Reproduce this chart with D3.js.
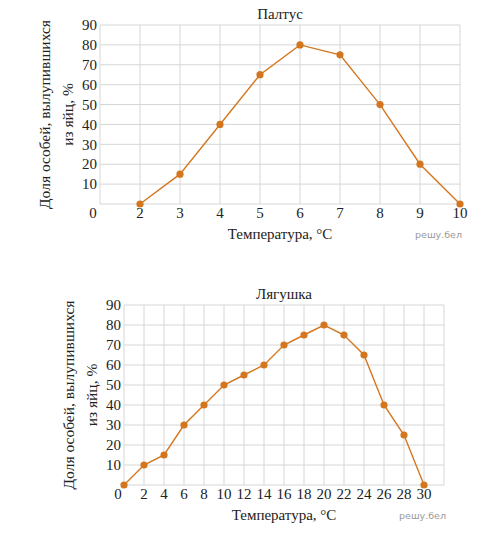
<!DOCTYPE html>
<html><head><meta charset="utf-8">
<script src="https://cdn.jsdelivr.net/npm/d3@7"></script>
<style>body{margin:0;background:#fff}svg{display:block}</style>
</head><body>
<script>
// Палтус
const halibutTemps = [2,3,4,5,6,7,8,9,10];
const halibutValues = [0,15,40,65,80,75,50,20,0];
const halibutXTicks = [2,3,4,5,6,7,8,9,10];
// Лягушка
const frogTemps = [0,2,4,6,8,10,12,14,16,18,20,22,24,26,28,30];
const frogValues = [0,10,15,30,40,50,55,60,70,75,80,75,65,40,25,0];
const frogXTicks = [2,4,6,8,10,12,14,16,18,20,22,24,26,28,30];
const yTicks = [10,20,30,40,50,60,70,80,90];
const titles = ["Палтус","Лягушка"];
const xLabel = "Температура, °C";
const yLabel1 = "Доля особей, вылупившихся";
const yLabel2 = "из яйц, %";
const watermark = "решу.бел";

const W=502,H=537;
const svg=d3.select("body").append("svg").attr("width",W).attr("height",H);
const serif="'Liberation Serif','Times New Roman',serif";
const col="#d4761f", grid="#d6d6d6";

function chart(cfg){
  const g=svg.append("g");
  const x=d3.scaleLinear().domain(cfg.xDomain).range([cfg.left,cfg.right]);
  const y=d3.scaleLinear().domain([0,90]).range([cfg.bottom,cfg.top]);
  // grid
  g.selectAll(".vg").data(cfg.vGrid).join("line")
    .attr("x1",d=>x(d)).attr("x2",d=>x(d)).attr("y1",cfg.top).attr("y2",cfg.bottom)
    .attr("stroke",grid).attr("stroke-width",1);
  g.selectAll(".hg").data([0].concat(yTicks)).join("line")
    .attr("x1",cfg.left).attr("x2",cfg.right).attr("y1",d=>y(d)).attr("y2",d=>y(d))
    .attr("stroke",grid).attr("stroke-width",1);
  // y ticks
  g.selectAll(".yt").data(yTicks).join("text")
    .attr("x",cfg.left-3).attr("y",d=>y(d)).attr("dy","0.35em")
    .attr("text-anchor","end").attr("font-family",serif).attr("font-size",15).attr("fill","#222")
    .text(d=>d);
  g.append("text").attr("x",cfg.zeroX).attr("y",cfg.bottom+9).attr("dy","0.35em")
    .attr("text-anchor","middle").attr("font-family",serif).attr("font-size",15).attr("fill","#222").text("0");
  // x ticks
  g.selectAll(".xt").data(cfg.xTicks).join("text")
    .attr("x",d=>x(d)).attr("y",cfg.bottom+9).attr("dy","0.35em")
    .attr("text-anchor","middle").attr("font-family",serif).attr("font-size",15).attr("fill","#222")
    .text(d=>d);
  // title
  const cx=(cfg.left+cfg.right)/2;
  g.append("text").attr("x",cx).attr("y",cfg.top-11).attr("dy","0.35em")
    .attr("text-anchor","middle").attr("font-family",serif).attr("font-size",15).attr("fill","#222").text(cfg.title);
  g.append("text").attr("x",cx).attr("y",cfg.bottom+30).attr("dy","0.35em")
    .attr("text-anchor","middle").attr("font-family",serif).attr("font-size",15).attr("fill","#222").text(xLabel);
  g.append("text").attr("x",cfg.right+2).attr("y",cfg.bottom+31).attr("dy","0.35em")
    .attr("text-anchor","end").attr("font-family","'DejaVu Sans',sans-serif").attr("font-size",9.5).attr("fill","#999").text(watermark);
  const cy=(cfg.top+cfg.bottom)/2;
  g.append("text").attr("transform",`translate(${cfg.left-55},${cy}) rotate(-90)`).attr("dy","0.35em")
    .attr("text-anchor","middle").attr("font-family",serif).attr("font-size",15.5).attr("fill","#222").text(yLabel1);
  g.append("text").attr("transform",`translate(${cfg.left-32},${cy}) rotate(-90)`).attr("dy","0.35em")
    .attr("text-anchor","middle").attr("font-family",serif).attr("font-size",15.5).attr("fill","#222").text(yLabel2);
  // line
  const pts=cfg.xs.map((d,i)=>[d,cfg.ys[i]]);
  g.append("path").datum(pts).attr("fill","none").attr("stroke",col).attr("stroke-width",1.4)
    .attr("d",d3.line().x(d=>x(d[0])).y(d=>y(d[1])));
  g.selectAll(".pt").data(pts).join("circle")
    .attr("cx",d=>x(d[0])).attr("cy",d=>y(d[1])).attr("r",3.6).attr("fill",col);
}

chart({xDomain:[1,10],left:100,right:460,top:25,bottom:204,vGrid:[1,2,3,4,5,6,7,8,9,10],
  xTicks:halibutXTicks,xs:halibutTemps,ys:halibutValues,title:titles[0],zeroX:93});
chart({xDomain:[0,32],left:124,right:444,top:305,bottom:485,vGrid:d3.range(0,33,2),
  xTicks:frogXTicks,xs:frogTemps,ys:frogValues,title:titles[1],zeroX:118});
</script>
</body></html>
